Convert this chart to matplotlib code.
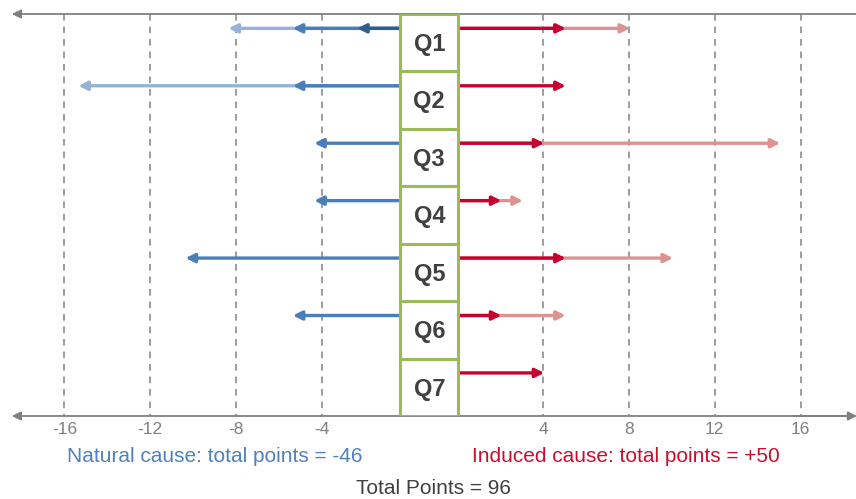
import numpy as np
import matplotlib.pyplot as plt
from matplotlib.patches import Rectangle

plt.rcParams['font.family'] = ['Liberation Sans', 'DejaVu Sans']

questions = ['Q1', 'Q2', 'Q3', 'Q4', 'Q5', 'Q6', 'Q7']

# natural cause points, drawn as stacked arrows (short ones on top)
natural_dark = [2, 0, 0, 0, 0, 0, 0]
natural_mid = [5, 5, 4, 4, 10, 5, 0]
natural_light = [8, 15, 0, 0, 0, 0, 0]

# induced cause points
induced_dark = [5, 5, 4, 2, 5, 2, 4]
induced_light = [8, 0, 15, 3, 10, 5, 0]

left_ticks = [-16, -12, -8, -4]
right_ticks = [4, 8, 12, 16]

natural_total = -46
induced_total = 50
total_points = 96

c_dark_blue = '#2e5d8e'
c_blue = '#4a7ebb'
c_light_blue = '#95b3d7'
c_red = '#c8002e'
c_light_red = '#dd9391'
c_green = '#9bbb59'
c_grid = '#8c8c8c'

gap = 2.32          # width of the question column in value units
box_left = -0.35
box_right = gap + 0.05

fig = plt.figure(figsize=(8.56, 4.99), dpi=100)
ax = fig.add_axes([0, 83 / 499, 1, 402 / 499])
ax.set_xlim(-407.6 / 21.45, (856 - 407.6) / 21.45)
ax.set_ylim(7, 0)
for s in ax.spines.values():
    s.set_visible(False)

tick_pos = left_ticks + [t + gap for t in right_ticks]
ax.set_xticks(tick_pos)
ax.set_xticklabels([str(t) for t in left_ticks + right_ticks])
ax.tick_params(axis='x', length=0, pad=4, labelsize=12.5, labelcolor='#7f7f7f')
ax.set_yticks([])
for x in tick_pos:
    ax.plot([x, x], [0, 7], ls=(0, (4, 3.5)), color=c_grid, lw=1.2, zorder=1)

# axis lines with arrowheads
for yy in [0, 7]:
    ax.annotate('', xy=(-18.45, yy), xytext=(20.9, yy),
                arrowprops=dict(arrowstyle='-|>', color='#808080', lw=1.3,
                                mutation_scale=13, shrinkA=0, shrinkB=0),
                zorder=2, annotation_clip=False)
ax.annotate('', xy=(20.95, 7), xytext=(18, 7),
            arrowprops=dict(arrowstyle='-|>', color='#808080', lw=1.3,
                            mutation_scale=13, shrinkA=0, shrinkB=0),
            zorder=2, annotation_clip=False)


def arrow(x0, x1, y, color):
    ax.annotate('', xy=(x1, y), xytext=(x0, y),
                arrowprops=dict(arrowstyle='-|>', color=color, lw=2.4,
                                mutation_scale=13, shrinkA=0, shrinkB=0),
                zorder=3)


for i in range(len(questions)):
    y = i + 0.25
    for vals, col in [(natural_light, c_light_blue), (natural_mid, c_blue),
                      (natural_dark, c_dark_blue)]:
        if vals[i]:
            arrow(box_left, box_left - vals[i], y, col)
    for vals, col in [(induced_light, c_light_red), (induced_dark, c_red)]:
        if vals[i]:
            arrow(box_right, box_right + vals[i], y, col)

for i, q in enumerate(questions):
    ax.add_patch(Rectangle((box_left, i), box_right - box_left, 1,
                           facecolor='white', edgecolor=c_green, lw=2.2, zorder=4))
    ax.text((box_left + box_right) / 2, i + 0.53, q, ha='center', va='center',
            fontsize=17, fontweight='bold', color='#404040', zorder=5)

fig.text(215 / 856, 1 - 457 / 499, f'Natural cause: total points = {natural_total}',
         ha='center', va='center', fontsize=15, color='#4f81bd')
fig.text(626 / 856, 1 - 457 / 499, f'Induced cause: total points = +{induced_total}',
         ha='center', va='center', fontsize=15, color='#c8102e')
fig.text(434 / 856, 1 - 488 / 499, f'Total Points = {total_points}',
         ha='center', va='center', fontsize=15, color='#404040')

fig.savefig('out.png', dpi=100)
